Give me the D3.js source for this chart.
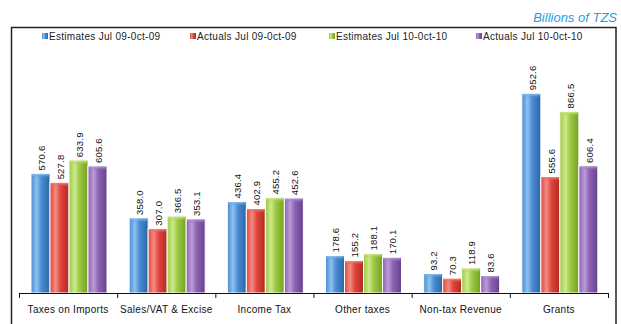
<!DOCTYPE html>
<html><head><meta charset="utf-8">
<script src="https://cdn.jsdelivr.net/npm/d3@7"></script>
<style>body{margin:0;background:#fff}svg{display:block}</style>
</head><body>
<script>
const categories = ["Taxes on Imports","Sales/VAT & Excise","Income Tax","Other taxes","Non-tax Revenue","Grants"];
const seriesNames = ["Estimates Jul 09-0ct-09","Actuals Jul 09-0ct-09","Estimates Jul 10-0ct-10","Actuals Jul 10-0ct-10"];
const est0910 = [570.6, 358.0, 436.4, 178.6, 93.2, 952.6];
const act0910 = [527.8, 307.0, 402.9, 155.2, 70.3, 555.6];
const est1011 = [633.9, 366.5, 455.2, 188.1, 118.9, 866.5];
const act1011 = [605.6, 353.1, 452.6, 170.1, 83.6, 606.4];
const seriesValues = [est0910, act0910, est1011, act1011];
const colors = [
  {base:"#4a8bd2", light:"#8cc2f0", dark:"#2c65a6"},
  {base:"#e0463c", light:"#f28c82", dark:"#b02820"},
  {base:"#9cc843", light:"#cde98c", dark:"#74a01f"},
  {base:"#8c63b2", light:"#bb9bd9", dark:"#66418e"}
];

const W=621,H=324;
const svg=d3.select("body").append("svg").attr("width",W).attr("height",H);
const defs=svg.append("defs");
colors.forEach((c,i)=>{
  const g=defs.append("linearGradient").attr("id","g"+i).attr("x1","0").attr("x2","1").attr("y1","0").attr("y2","0");
  g.append("stop").attr("offset","0").attr("stop-color",c.base);
  g.append("stop").attr("offset","0.3").attr("stop-color",c.light);
  g.append("stop").attr("offset","0.55").attr("stop-color",c.base);
  g.append("stop").attr("offset","1").attr("stop-color",c.dark);
  const t=defs.append("linearGradient").attr("id","t"+i).attr("x1","0").attr("x2","0").attr("y1","0").attr("y2","1");
  t.append("stop").attr("offset","0").attr("stop-color",c.light);
  t.append("stop").attr("offset","1").attr("stop-color",c.base).attr("stop-opacity",0);
});

// frame
svg.append("rect").attr("x",11.5).attr("y",27.5).attr("width",604.5).attr("height",310)
  .attr("fill","none").attr("stroke","#222").attr("stroke-width",1.5);

svg.append("text").attr("x",617).attr("y",22).attr("text-anchor","end")
  .attr("font-family","Liberation Sans, Arial, sans-serif").attr("font-style","italic")
  .attr("font-size",13).attr("fill","#1a9fe6").text("Billions of TZS");

const x0=d3.scaleBand().domain(categories).range([19,608]).paddingInner(0).paddingOuter(0);
const x1=d3.scaleBand().domain(d3.range(4)).range([12,88]);
const y=d3.scaleLinear().domain([0,1000]).range([293,83.4]);

// legend
const legX=[42,190,329,476];
const leg=svg.append("g");
seriesNames.forEach((n,i)=>{
  leg.append("rect").attr("x",legX[i]).attr("y",33).attr("width",6).attr("height",6).attr("fill","url(#g"+i+")");
  leg.append("text").attr("x",legX[i]+7).attr("y",39.5).attr("font-family","Liberation Sans, Arial, sans-serif")
    .attr("font-size",10).attr("letter-spacing",0.3).attr("fill","#222").text(n);
});

// bars
const bw=x1.bandwidth();
seriesValues.forEach((vals,si)=>{
  const g=svg.append("g");
  categories.forEach((c,ci)=>{
    const v=vals[ci];
    const bx=x0(c)+x1(si);
    const by=y(v);
    g.append("rect").attr("x",bx).attr("y",by).attr("width",bw).attr("height",y(0)-by)
      .attr("fill","url(#g"+si+")").attr("stroke","#fff").attr("stroke-width",1);
    g.append("rect").attr("x",bx+1).attr("y",by+0.5).attr("width",bw-2).attr("height",4)
      .attr("fill","url(#t"+si+")");
    g.append("text").attr("transform",`translate(${bx+bw/2+1},${by-3}) rotate(-90)`)
      .attr("dy","0.35em").attr("font-family","Liberation Sans, Arial, sans-serif")
      .attr("font-size",9.5).attr("letter-spacing",0.2).attr("fill","#111").text(v.toFixed(1));
  });
});

// axis
const ax=svg.append("g");
ax.append("line").attr("x1",19).attr("x2",608).attr("y1",293.5).attr("y2",293.5).attr("stroke","#111").attr("stroke-width",1);
const bounds=categories.map(c=>x0(c)).concat([x0.range()[1]]);
ax.selectAll("line.tk").data(bounds).join("line").attr("class","tk")
  .attr("x1",d=>d+0.5).attr("x2",d=>d+0.5).attr("y1",293).attr("y2",298).attr("stroke","#111");
ax.selectAll("text").data(categories).join("text")
  .attr("x",d=>x0(d)+x0.bandwidth()/2).attr("y",313).attr("text-anchor","middle")
  .attr("font-family","Liberation Sans, Arial, sans-serif").attr("font-size",10).attr("letter-spacing",0.3)
  .attr("fill","#111").text(d=>d);
</script>
</body></html>
